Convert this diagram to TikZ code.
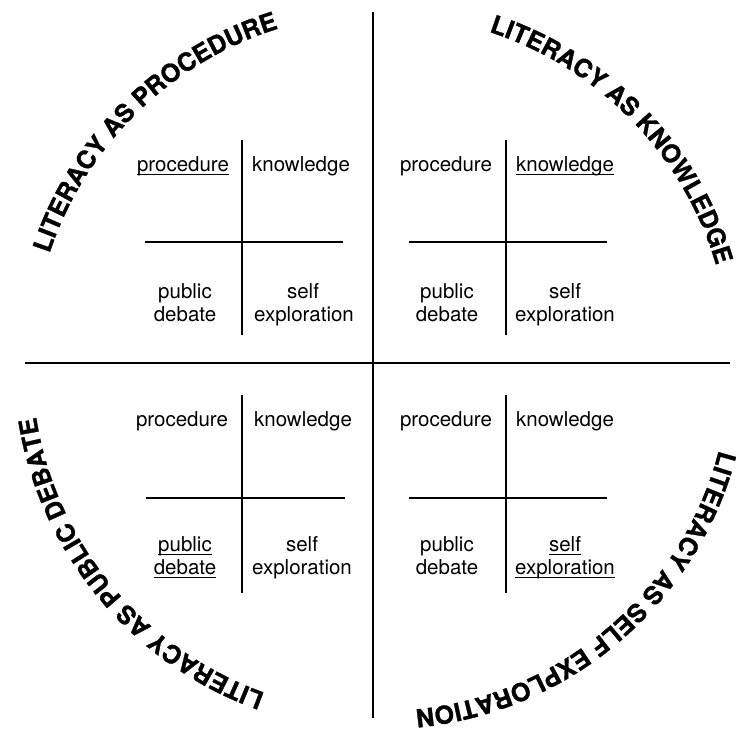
\documentclass[tikz,border=0pt]{standalone}
\usepackage{fontspec}
\setmainfont{TeX Gyre Heros}
\newfontfamily\arcfont{TeX Gyre Heros}[BoldFeatures={FakeBold=1.2}]
\usetikzlibrary{decorations.text}
\newsavebox\ulbox
\newcommand\ult[1]{\sbox\ulbox{#1}\rlap{\usebox\ulbox}\rule[-2.8pt]{\wd\ulbox}{0.9pt}}
\begin{document}
\begin{tikzpicture}[x=1pt,y=1pt,
  lbl/.style={font=\fontsize{20.5}{23}\selectfont, inner sep=0pt, anchor=base},
  crossrule/.style={line width=1.2pt},
  mainrule/.style={line width=1.4pt},
  arctext/.style={decorate, decoration={text along path, text align=center,
     text={|\arcfont\bfseries\fontsize{25}{25}\selectfont|#1}}}]
\useasboundingbox (0,0) rectangle (736,731);
% main cross
\coordinate (mT) at (373,719);
\coordinate (mB) at (373,13);
\coordinate (mL) at (25,368);
\coordinate (mR) at (730,368);
\coordinate (O) at (382,368);
\draw[mainrule] (mT) -- (mB);
\draw[mainrule] (mL) -- (mR);
% small crosses
\coordinate (tlT) at (242,591); \coordinate (tlB) at (242,396);
\coordinate (tlL) at (145,489); \coordinate (tlR) at (343,489);
\coordinate (trT) at (506,591); \coordinate (trB) at (506,396);
\coordinate (trL) at (409,489); \coordinate (trR) at (607,489);
\coordinate (blT) at (242,336); \coordinate (blB) at (242,138);
\coordinate (blL) at (146,233); \coordinate (blR) at (345,233);
\coordinate (brT) at (506,336); \coordinate (brB) at (506,138);
\coordinate (brL) at (409,233); \coordinate (brR) at (607,233);
\foreach \q in {tl,tr,bl,br}{
  \draw[crossrule] (\q T) -- (\q B);
  \draw[crossrule] (\q L) -- (\q R);
}
% top-left labels
\node[lbl] (tlP) at (183,559) {\ult{procedure}};
\node[lbl] (tlK) at (301,559) {knowledge};
\node[lbl] (tlPu) at (185,432) {public};
\node[lbl] (tlDe) at (185,409) {debate};
\node[lbl] (tlSe) at (303,432) {self};
\node[lbl] (tlEx) at (304,409) {exploration};
% top-right labels
\node[lbl] (trP) at (446,559) {procedure};
\node[lbl] (trK) at (565,559) {\ult{knowledge}};
\node[lbl] (trPu) at (447,432) {public};
\node[lbl] (trDe) at (447,409) {debate};
\node[lbl] (trSe) at (565,432) {self};
\node[lbl] (trEx) at (565,409) {exploration};
% bottom-left labels
\node[lbl] (blP) at (182,304) {procedure};
\node[lbl] (blK) at (303,304) {knowledge};
\node[lbl] (blPu) at (185,179) {\ult{public}};
\node[lbl] (blDe) at (185,156) {\ult{debate}};
\node[lbl] (blSe) at (302,179) {self};
\node[lbl] (blEx) at (302,156) {exploration};
% bottom-right labels
\node[lbl] (brP) at (446,304) {procedure};
\node[lbl] (brK) at (565,304) {knowledge};
\node[lbl] (brPu) at (447,179) {public};
\node[lbl] (brDe) at (447,156) {debate};
\node[lbl] (brSe) at (565,179) {\ult{self}};
\node[lbl] (brEx) at (565,156) {\ult{exploration}};
% arc titles
\path[arctext={LITERACY AS PROCEDURE}] (O) ++(179.5:350) arc[start angle=179.5, end angle=89.5, radius=350];
\path[arctext={LITERACY AS KNOWLEDGE}] (O) ++(89.2:348) arc[start angle=89.2, end angle=-0.8, radius=348];
\path[arctext={LITERACY AS PUBLIC DEBATE}] (O) ++(264.7:350) arc[start angle=264.7, end angle=174.7, radius=350];
\path[arctext={LITERACY AS SELF EXPLORATION}] (O) ++(355.5:348) arc[start angle=355.5, end angle=265.5, radius=348];
\end{tikzpicture}
\end{document}
